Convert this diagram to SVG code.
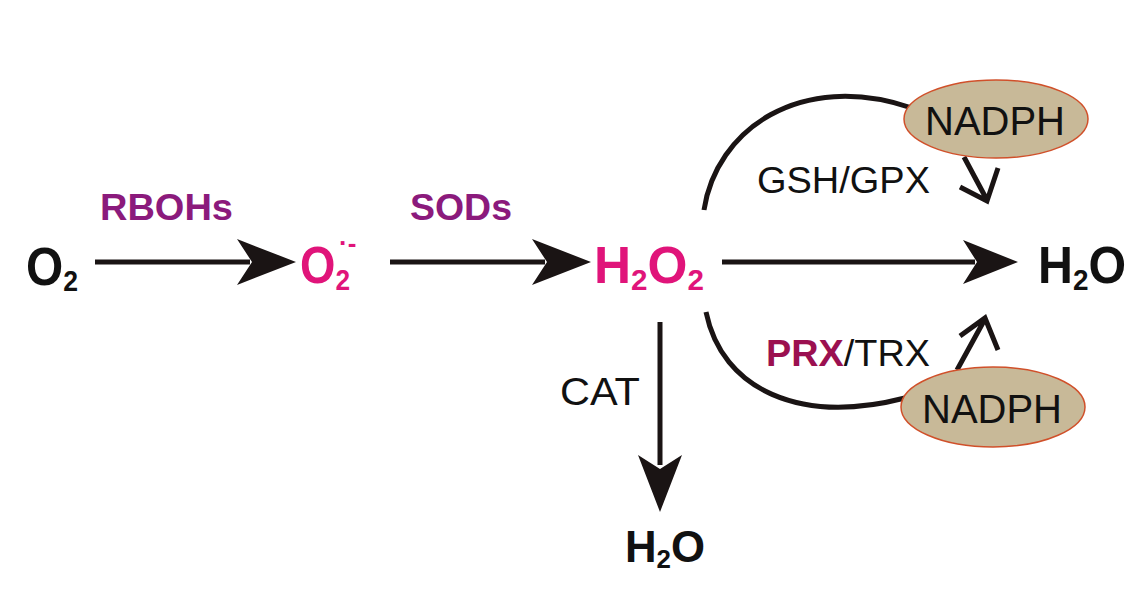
<svg xmlns="http://www.w3.org/2000/svg" width="1132" height="590" viewBox="0 0 1132 590">
<defs>
<style>
.t{font-family:"Liberation Sans",Arial,sans-serif}
.b{font-weight:bold}
.ln{stroke:#1a1414;stroke-width:5;fill:none}
.hd{fill:#1a1414}
.el{fill:#c8b998;stroke:#d0502a;stroke-width:1.5}
</style>
</defs>
<rect width="1132" height="590" fill="#fff"/>
<g id="connectors">
<line class="ln" x1="95" y1="262" x2="250" y2="262"/>
<path class="hd" d="M296,262 L237,239 L252,262 L237,285 Z"/>
<line class="ln" x1="390" y1="262" x2="545" y2="262"/>
<path class="hd" d="M591,262 L532,239 L547,262 L532,285 Z"/>
<line class="ln" x1="722" y1="262" x2="975" y2="262"/>
<path class="hd" d="M1018,262 L963,240 L977,262 L963,284 Z"/>
<line class="ln" x1="660" y1="322" x2="660" y2="465"/>
<path class="hd" d="M660,512 L638,455 L660,469 L682,455 Z"/>
<path class="ln" d="M704,210 C716,130 800,70 912,108"/>
<path class="ln" d="M964,157 L987,200 M960,187 L987,201 L998,168"/>
<path class="ln" d="M706,312 C722,390 800,425 905,398"/>
<path class="ln" d="M957,370 L985,319 M960,336 L985,318 L998,350"/>
</g>
<g id="O2"><text class="t b" x="26" y="285" font-size="54" fill="#111" textLength="52" lengthAdjust="spacingAndGlyphs">O<tspan font-size="30" dy="6">2</tspan></text></g>
<g id="RBOHs"><text class="t b" x="100" y="220" font-size="36" fill="#8b1a7c" textLength="133" lengthAdjust="spacingAndGlyphs">RBOHs</text></g>
<g id="superoxide"><text class="t b" x="300" y="283" font-size="52" fill="#e0147a" textLength="50" lengthAdjust="spacingAndGlyphs">O<tspan font-size="30" dy="7">2</tspan></text><text class="t b" x="339" y="252" font-size="26" fill="#e0147a">·-</text></g>
<g id="SODs"><text class="t b" x="410" y="220" font-size="36" fill="#8b1a7c" textLength="102" lengthAdjust="spacingAndGlyphs">SODs</text></g>
<g id="H2O2"><text class="t b" x="594" y="283" font-size="52" fill="#e0147a" textLength="110" lengthAdjust="spacingAndGlyphs">H<tspan font-size="30" dy="7">2</tspan><tspan dy="-7">O</tspan><tspan font-size="30" dy="7">2</tspan></text></g>
<g id="H2O-right"><text class="t b" x="1038" y="283" font-size="52" fill="#111" textLength="88" lengthAdjust="spacingAndGlyphs">H<tspan font-size="30" dy="7">2</tspan><tspan dy="-7">O</tspan></text></g>
<g id="H2O-bottom"><text class="t b" x="625" y="562" font-size="44" fill="#111" textLength="80" lengthAdjust="spacingAndGlyphs">H<tspan font-size="26" dy="6">2</tspan><tspan dy="-6">O</tspan></text></g>
<g id="CAT"><text class="t" x="560" y="405" font-size="38" fill="#111" textLength="80" lengthAdjust="spacingAndGlyphs">CAT</text></g>
<g id="GSHGPX"><text class="t" x="757" y="193" font-size="36" fill="#111" textLength="173" lengthAdjust="spacingAndGlyphs">GSH/GPX</text></g>
<g id="PRXTRX"><text class="t" x="766" y="366" font-size="36" fill="#111" textLength="164" lengthAdjust="spacingAndGlyphs"><tspan class="b" fill="#9b1050">PRX</tspan>/TRX</text></g>
<g id="NADPH-top"><ellipse class="el" cx="996" cy="119" rx="92" ry="39"/><text class="t" x="925" y="135" font-size="40" fill="#111" textLength="140" lengthAdjust="spacingAndGlyphs">NADPH</text></g>
<g id="NADPH-bottom"><ellipse class="el" cx="993" cy="407" rx="92" ry="40"/><text class="t" x="922" y="423" font-size="40" fill="#111" textLength="140" lengthAdjust="spacingAndGlyphs">NADPH</text></g>
</svg>
